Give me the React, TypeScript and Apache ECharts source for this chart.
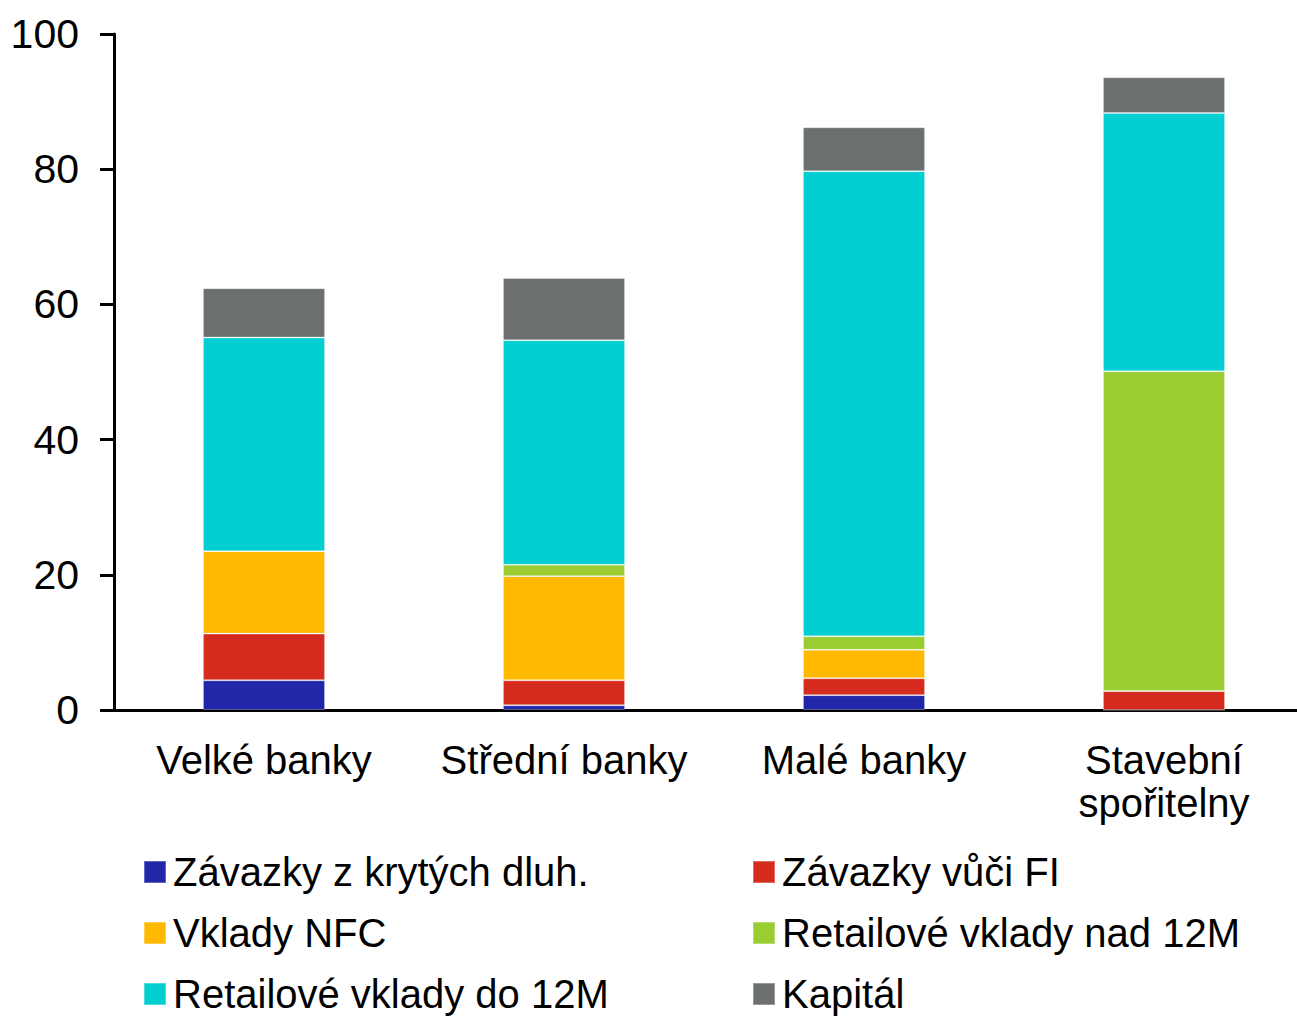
import React, { useEffect, useRef } from "react";
import * as echarts from "echarts";

const categories = ["Velké banky", "Střední banky", "Malé banky", "Stavební\nspořitelny"];
const seriesNames = [
  "Závazky z krytých dluh.",
  "Závazky vůči FI",
  "Vklady NFC",
  "Retailové vklady nad 12M",
  "Retailové vklady do 12M",
  "Kapitál",
];
const coveredBonds = [4.4, 0.7, 2.2, 0];
const liabilitiesFI = [6.9, 3.7, 2.5, 2.8];
const depositsNFC = [12.2, 15.4, 4.2, 0];
const retailOver12M = [0, 1.7, 2.0, 47.3];
const retailUnder12M = [31.6, 33.2, 68.8, 38.2];
const capital = [7.3, 9.2, 6.5, 5.3];
const yTicks = [0, 20, 40, 60, 80, 100];

const seriesData = [coveredBonds, liabilitiesFI, depositsNFC, retailOver12M, retailUnder12M, capital];
const colors = ["#2226A8", "#D52B1E", "#FFB900", "#9ACD32", "#00CED1", "#6B6F6F"];

export default function App() {
  const ref = useRef<HTMLDivElement>(null);
  useEffect(() => {
    if (!ref.current) return;
    const chart = echarts.init(ref.current, null, { renderer: "svg" });
    const font = "'Liberation Sans', Arial, sans-serif";
    const legendCommon = {
      orient: "vertical" as const,
      top: 852,
      itemWidth: 22,
      itemHeight: 22,
      itemGap: 21,
      icon: "rect",
      textStyle: { fontSize: 40, lineHeight: 40, color: "#000", fontFamily: font, padding: [0, 0, 0, 2] },
      padding: 0,
    };
    chart.setOption({
      animation: false,
      grid: { left: 114, right: 6, top: 34, bottom: 308, containLabel: false },
      legend: [
        { ...legendCommon, left: 143, data: [seriesNames[0], seriesNames[2], seriesNames[4]] },
        { ...legendCommon, left: 752, data: [seriesNames[1], seriesNames[3], seriesNames[5]] },
      ],
      xAxis: {
        type: "category",
        data: categories,
        axisLine: { lineStyle: { color: "#000", width: 3 } },
        axisTick: { show: false },
        axisLabel: { fontSize: 40, lineHeight: 43, color: "#000", fontFamily: font, margin: 28, interval: 0 },
      },
      yAxis: {
        type: "value",
        min: yTicks[0],
        max: yTicks[yTicks.length - 1],
        interval: 20,
        splitLine: { show: false },
        axisLine: { show: true, lineStyle: { color: "#000", width: 3 } },
        axisTick: { show: true, length: 14, lineStyle: { color: "#000", width: 3 } },
        axisLabel: { fontSize: 41, color: "#000", fontFamily: font, margin: 35 },
      },
      series: seriesNames.map((name, i) => ({
        name,
        type: "bar",
        stack: "total",
        barWidth: "40.7%",
        data: seriesData[i],
        itemStyle: { color: colors[i], borderColor: "rgba(255,255,255,0.3)", borderWidth: 1 },
      })),
    });
    return () => chart.dispose();
  }, []);
  return (
    <div style={{ position: "absolute", left: 0, top: 0, width: 1297, height: 1018, overflow: "hidden", background: "#fff" }}>
      <div ref={ref} style={{ width: 1320, height: 1018 }} />
    </div>
  );
}
